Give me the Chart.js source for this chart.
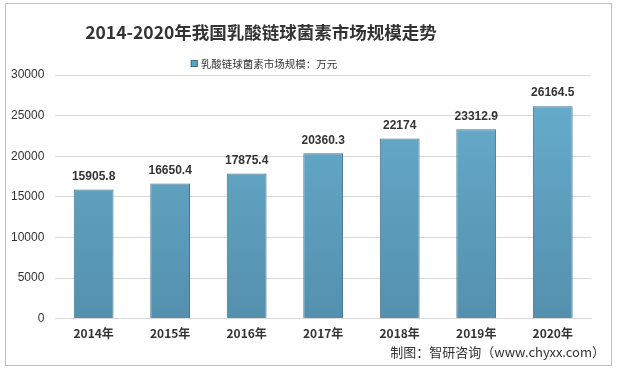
<!DOCTYPE html>
<html>
<head>
<meta charset="utf-8">
<script src="https://cdn.jsdelivr.net/npm/chart.js@4"></script>
<style>
  html, body { margin: 0; padding: 0; background: #fff; }
  #wrap { width: 617px; height: 371px; }
</style>
</head>
<body>
<div id="wrap"><canvas id="marketChart" width="617" height="371"></canvas></div>
<script>
const years = ['2014年', '2015年', '2016年', '2017年', '2018年', '2019年', '2020年'];
const marketSize = [15905.8, 16650.4, 17875.4, 20360.3, 22174, 23312.9, 26164.5];
const yTicks = [0, 5000, 10000, 15000, 20000, 25000, 30000];
const chartTitle = '2014-2020年我国乳酸链球菌素市场规模走势';
const footerText = '制图：智研咨询（www.chyxx.com）';

// frame, title, legend, footer and value labels (title/legend sit left of centre like the original)
const extras = {
  id: 'extras',
  afterDraw(chart) {
    const ctx = chart.ctx;
    ctx.save();
    ctx.strokeStyle = '#BFBFBF';
    ctx.lineWidth = 1;
    ctx.strokeRect(5.5, 3.5, 606, 362);

    ctx.fillStyle = '#333';
    ctx.textAlign = 'center';
    ctx.textBaseline = 'middle';
    ctx.font = 'bold 17.5px "Noto Sans CJK SC", sans-serif';
    ctx.fillText(chartTitle, 261, 32);

    // legend
    const label = chart.data.datasets[0].label;
    ctx.font = '10.5px "Noto Sans CJK SC", sans-serif';
    const tw = ctx.measureText(label).width;
    const lx = 264 - (tw + 10) / 2;
    ctx.fillStyle = '#5FA3C3';
    ctx.fillRect(lx, 60, 7, 7);
    ctx.strokeStyle = '#3F6F88';
    ctx.strokeRect(lx + 0.5, 60.5, 6, 6);
    ctx.fillStyle = '#333';
    ctx.textAlign = 'left';
    ctx.fillText(label, lx + 10, 64);

    ctx.font = 'bold 12px "Liberation Sans", Arial, sans-serif';
    ctx.textAlign = 'center';
    ctx.textBaseline = 'bottom';
    const meta = chart.getDatasetMeta(0);
    meta.data.forEach((bar, i) => {
      ctx.fillText(String(marketSize[i]), bar.x, bar.y - 7);
    });

    ctx.font = '13px "Noto Sans CJK SC", sans-serif';
    ctx.textAlign = 'right';
    ctx.textBaseline = 'middle';
    ctx.fillText(footerText, 605, 352);
    ctx.restore();
  }
};

const ctx = document.getElementById('marketChart').getContext('2d');
new Chart(ctx, {
  type: 'bar',
  data: {
    labels: years,
    datasets: [{
      label: '乳酸链球菌素市场规模：万元',
      data: marketSize,
      backgroundColor: (c) => {
        const area = c.chart.chartArea;
        if (!area) return '#5FA3C4';
        const g = c.chart.ctx.createLinearGradient(0, area.top, 0, area.bottom);
        g.addColorStop(0, '#68AECE');
        g.addColorStop(1, '#5490AE');
        return g;
      },
      borderColor: '#3F6F88',
      borderWidth: 1,
      categoryPercentage: 1,
      barPercentage: 0.52
    }]
  },
  options: {
    responsive: false,
    animation: false,
    layout: { padding: { top: 75, left: 0, right: 26, bottom: 30 } },
    plugins: {
      title: { display: false },
      legend: { display: false },
      tooltip: { enabled: false }
    },
    scales: {
      x: {
        grid: { display: false },
        border: { color: '#D9D9D9' },
        ticks: {
          color: '#333',
          font: { size: 12, weight: 'bold', family: '"Noto Sans CJK SC", sans-serif' },
          padding: 0
        }
      },
      y: {
        min: 0,
        max: 30000,
        afterBuildTicks: (axis) => { axis.ticks = yTicks.map(v => ({ value: v })); },
        grid: { color: '#D9D9D9', drawTicks: false },
        border: { display: false },
        ticks: {
          color: '#333',
          font: { size: 12, family: '"Liberation Sans", Arial, sans-serif' },
          padding: 11,
          callback: (v) => String(v)
        }
      }
    }
  },
  plugins: [extras]
});
</script>
</body>
</html>
